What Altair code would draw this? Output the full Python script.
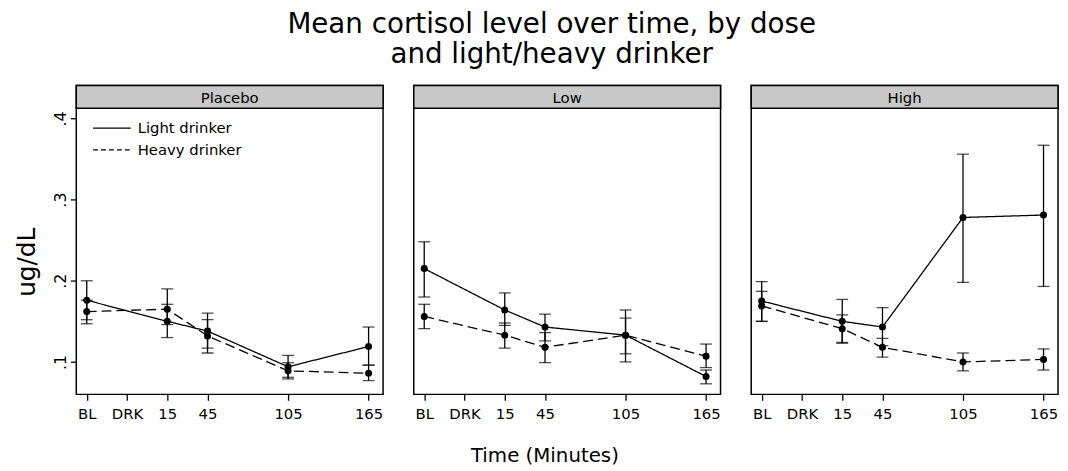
import altair as alt
import pandas as pd

FONT = "DejaVu Sans"

doses = ["Placebo", "Low", "High"]
groups = ["Light drinker", "Heavy drinker"]
tick_values = [-45, -15, 15, 45, 105, 165]
tick_labels = ["BL", "DRK", "15", "45", "105", "165"]
obs_times = [-45, 15, 45, 105, 165]
y_ticks = [0.1, 0.2, 0.3, 0.4]

placebo_light_mean = [0.176, 0.150, 0.138, 0.094, 0.119]
placebo_light_lo = [0.152, 0.130, 0.117, 0.081, 0.096]
placebo_light_hi = [0.200, 0.171, 0.160, 0.108, 0.143]
placebo_heavy_mean = [0.162, 0.165, 0.132, 0.089, 0.086]
placebo_heavy_lo = [0.147, 0.146, 0.111, 0.079, 0.077]
placebo_heavy_hi = [0.176, 0.190, 0.152, 0.099, 0.096]

low_light_mean = [0.215, 0.164, 0.143, 0.133, 0.082]
low_light_lo = [0.180, 0.145, 0.126, 0.100, 0.073]
low_light_hi = [0.248, 0.185, 0.159, 0.164, 0.090]
low_heavy_mean = [0.156, 0.133, 0.118, 0.133, 0.107]
low_heavy_lo = [0.141, 0.117, 0.099, 0.110, 0.093]
low_heavy_hi = [0.171, 0.148, 0.136, 0.154, 0.122]

high_light_mean = [0.175, 0.150, 0.143, 0.278, 0.281]
high_light_lo = [0.150, 0.124, 0.120, 0.198, 0.193]
high_light_hi = [0.199, 0.177, 0.167, 0.356, 0.367]
high_heavy_mean = [0.169, 0.141, 0.118, 0.100, 0.103]
high_heavy_lo = [0.150, 0.123, 0.106, 0.089, 0.090]
high_heavy_hi = [0.187, 0.158, 0.129, 0.111, 0.116]

series = {
    ("Placebo", "Light drinker"): (placebo_light_mean, placebo_light_lo, placebo_light_hi),
    ("Placebo", "Heavy drinker"): (placebo_heavy_mean, placebo_heavy_lo, placebo_heavy_hi),
    ("Low", "Light drinker"): (low_light_mean, low_light_lo, low_light_hi),
    ("Low", "Heavy drinker"): (low_heavy_mean, low_heavy_lo, low_heavy_hi),
    ("High", "Light drinker"): (high_light_mean, high_light_lo, high_light_hi),
    ("High", "Heavy drinker"): (high_heavy_mean, high_heavy_lo, high_heavy_hi),
}

rows = []
for (d, g), (m, lo, hi) in series.items():
    for t, a, b, c in zip(obs_times, m, lo, hi):
        rows.append({"dose": d, "group": g, "time": t, "mean": a, "lo": b, "hi": c})
df = pd.DataFrame(rows)

label_expr = ""
for v, l in zip(tick_values, tick_labels):
    label_expr += f"datum.value == {v} ? '{l}' : "
label_expr += "''"

PANEL_W = 310
PANEL_H = 312
HEADER_H = 23

xscale = alt.Scale(domain=[-52.8, 175.8], nice=False, zero=False)
yscale = alt.Scale(domain=[0.06, 0.4405], nice=False, zero=False)


def xaxis(middle):
    kw = dict(
        values=tick_values, labelExpr=label_expr, grid=False, domain=False,
        tickSize=6, tickWidth=1.3, tickColor="black", labelFontSize=15,
        labelPadding=6, labelFlush=False, labelOverlap=False, labelBound=False,
        labelFont=FONT, labelColor="black",
    )
    if middle:
        kw.update(title="Time (Minutes)", titleFontSize=20, titleFont=FONT,
                  titleFontWeight="normal", titleColor="black",
                  titleX=132, titleY=62, titleAlign="center", titleBaseline="middle")
    else:
        kw.update(title=None)
    return alt.Axis(**kw)


yaxis_first = alt.Axis(
    values=y_ticks, labelExpr="'.' + round(datum.value * 10)", grid=False, domain=False,
    tickSize=6, tickWidth=1.3, tickColor="black", labelFontSize=16, labelAngle=270,
    labelPadding=2, labelFont=FONT, labelColor="black",
    title="ug/dL", titleFontSize=25, titleFont=FONT, titleFontWeight="normal",
    titleColor="black", titleAngle=270, titleX=-50, titleY=178,
    titleAlign="center", titleBaseline="middle",
)


def panel(dose, first, middle):
    sub = df[df["dose"] == dose]
    base = alt.Chart(sub)
    yax = yaxis_first if first else None

    def X(field="time"):
        return alt.X(f"{field}:Q", scale=xscale, axis=xaxis(middle))

    def Y(field):
        return alt.Y(f"{field}:Q", scale=yscale, axis=yax)

    dash = alt.StrokeDash(
        "group:N", scale=alt.Scale(domain=groups, range=[[1, 0], [10, 5]]), legend=None
    )
    lines = base.mark_line(color="black", strokeWidth=1.3).encode(
        x=X(), y=Y("mean"), strokeDash=dash, detail="group:N"
    )
    bars = base.mark_rule(color="black", strokeWidth=1.3).encode(
        x=X(), y=Y("lo"), y2="hi:Q"
    )
    caps_lo = base.mark_tick(color="black", orient="horizontal", size=12, thickness=1.3).encode(
        x=X(), y=Y("lo")
    )
    caps_hi = base.mark_tick(color="black", orient="horizontal", size=12, thickness=1.3).encode(
        x=X(), y=Y("hi")
    )
    pts = base.mark_circle(color="black", size=50, opacity=1).encode(x=X(), y=Y("mean"))

    header_df = pd.DataFrame({"dose": [dose]})
    header = alt.Chart(header_df).mark_rect(
        fill="#c8c8c8", stroke="black", strokeWidth=1.5
    ).encode(x=alt.value(0), x2=alt.value(PANEL_W), y=alt.value(0), y2=alt.value(HEADER_H))
    htext = alt.Chart(header_df).mark_text(
        font=FONT, fontSize=15, color="black", baseline="middle"
    ).encode(x=alt.value(PANEL_W / 2), y=alt.value(HEADER_H / 2 + 1), text="dose:N")

    layers = [header, htext, lines, bars, caps_lo, caps_hi, pts]
    if first:
        leg = base.mark_line(color="black", strokeWidth=1.3).encode(
            x=X(), y=Y("mean"),
            strokeDash=alt.StrokeDash(
                "group:N",
                scale=alt.Scale(domain=groups, range=[[1, 0], [5, 3]]),
                legend=alt.Legend(
                    orient="none", legendX=16, legendY=32, title=None,
                    symbolType="stroke", symbolSize=1444, symbolStrokeWidth=1.3,
                    symbolStrokeColor="black", labelFont=FONT, labelFontSize=15,
                    labelColor="black", labelOffset=6, rowPadding=0, padding=0,
                    clipHeight=22,
                ),
            ),
        ).transform_filter("false")
        layers.append(leg)
        ch = alt.layer(*layers).resolve_scale(strokeDash="independent")
    else:
        ch = alt.layer(*layers)
    return ch.properties(width=PANEL_W, height=PANEL_H)


chart = alt.hconcat(
    panel("Placebo", True, False),
    panel("Low", False, True),
    panel("High", False, False),
    spacing=27,
).properties(
    title=alt.TitleParams(
        text=["Mean cortisol level over time, by dose", "and light/heavy drinker"],
        fontSize=28, font=FONT, fontWeight="normal", color="black",
        anchor="middle", lineHeight=31, offset=15, dx=15,
    ),
    padding={"left": 6, "top": 0, "right": 0, "bottom": 0},
).configure_view(
    stroke="black", strokeWidth=1.5
)

chart.save("out.html", embed_options={"renderer": "svg", "actions": False})
